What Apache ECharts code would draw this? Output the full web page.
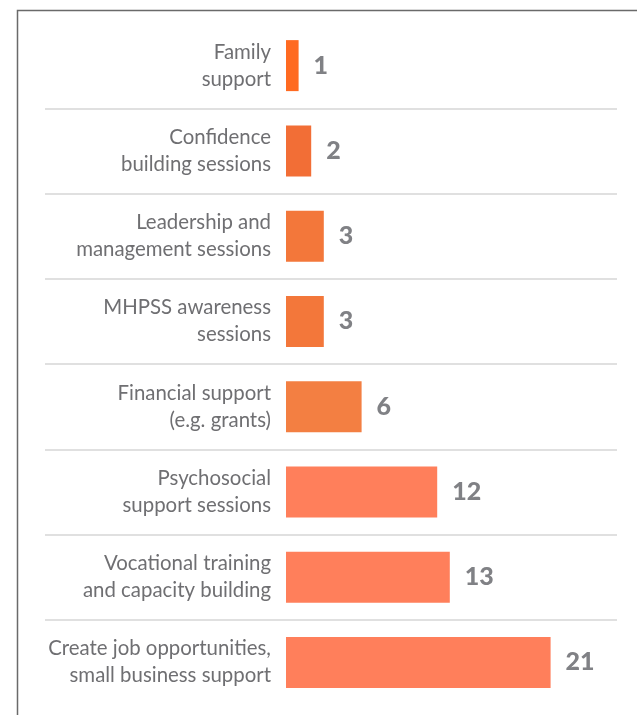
<!DOCTYPE html>
<html>
<head>
<meta charset="utf-8">
<script src="https://cdn.jsdelivr.net/npm/echarts@6/dist/echarts.min.js"></script>
<style>
  html, body { margin: 0; padding: 0; background: #ffffff; }
  #chart { width: 637px; height: 715px; }
</style>
</head>
<body>
<div id="chart"></div>
<script>
// Support types offered, top to bottom
const categories = [
  'Family\nsupport',
  'Confidence\nbuilding sessions',
  'Leadership and\nmanagement sessions',
  'MHPSS awareness\nsessions',
  'Financial support\n(e.g. grants)',
  'Psychosocial\nsupport sessions',
  'Vocational training\nand capacity building',
  'Create job opportunities,\nsmall business support'
];
// Number of mentions per support type
const counts = [1, 2, 3, 3, 6, 12, 13, 21];
// Fill colour per bar
const barColors = ['#FF6A21', '#F26E36', '#F3773A', '#F3773A', '#F37F42', '#FF7F5B', '#FF7F5B', '#FF7F5B'];

const chart = echarts.init(document.getElementById('chart'), null, { renderer: 'canvas' });

const gridTop = 23;
const gridBottom = 10;

chart.setOption({
  animation: false,
  backgroundColor: '#ffffff',
  grid: [
    // bars
    { left: 286, right: 36, top: gridTop, bottom: gridBottom, containLabel: false },
    // wide grid carrying the row separators
    { left: 45, right: 20, top: gridTop, bottom: gridBottom, containLabel: false }
  ],
  xAxis: [
    { gridIndex: 0, type: 'value', min: 0, max: 25, show: false },
    { gridIndex: 1, type: 'value', min: 0, max: 1, show: false }
  ],
  yAxis: [
    {
      gridIndex: 0,
      type: 'category',
      inverse: true,
      data: categories,
      axisLine: { show: false },
      axisTick: { show: false },
      splitLine: { show: false },
      axisLabel: {
        margin: 15,
        align: 'right',
        color: '#6f6f72',
        fontFamily: 'Lato',
        fontSize: 20.4,
        lineHeight: 27
      }
    },
    {
      gridIndex: 1,
      type: 'category',
      inverse: true,
      data: categories,
      axisLine: { show: false },
      axisTick: { show: false },
      axisLabel: { show: false },
      splitLine: {
        show: true,
        showMinLine: false,
        showMaxLine: false,
        lineStyle: { color: '#d6d6d6', width: 1.5 }
      }
    }
  ],
  graphic: [
    {
      type: 'polyline',
      silent: true,
      shape: { points: [[17.5, 715], [17.5, 10.5], [637, 10.5]] },
      style: { stroke: '#6a6a6a', lineWidth: 1.5, fill: null }
    }
  ],
  series: [
    {
      type: 'bar',
      xAxisIndex: 0,
      yAxisIndex: 0,
      barWidth: 51,
      data: counts.map((v, i) => ({ value: v, itemStyle: { color: barColors[i] } })),
      label: {
        show: true,
        position: 'right',
        distance: 15,
        color: '#808185',
        fontFamily: 'Lato',
        fontWeight: 900,
        fontSize: 25
      }
    }
  ]
});
</script>
</body>
</html>
